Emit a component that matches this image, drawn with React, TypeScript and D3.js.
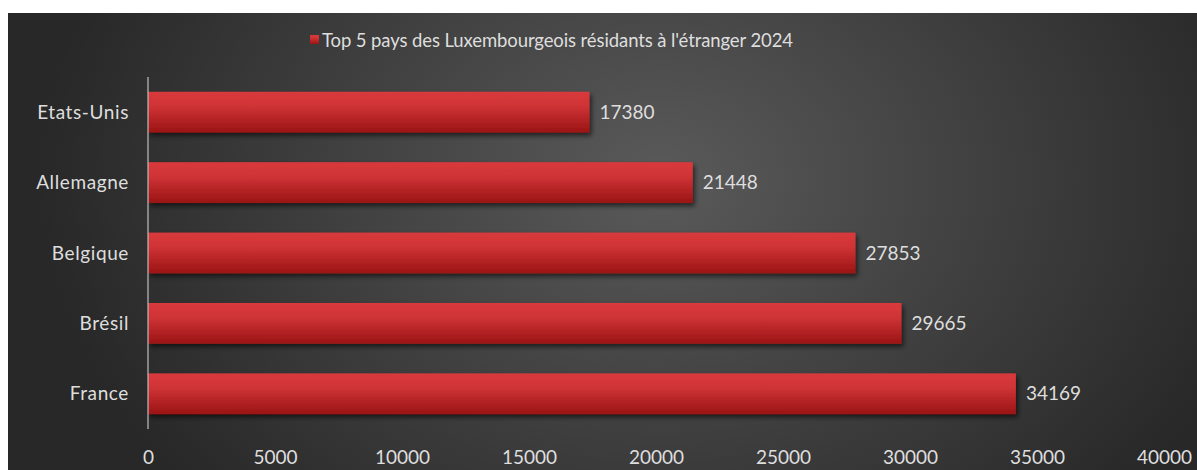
import { useEffect, useRef } from "react";
import * as d3 from "d3";

const categories = ["Etats-Unis", "Allemagne", "Belgique", "Brésil", "France"];
const values = [17380, 21448, 27853, 29665, 34169];
const tickValues = [0, 5000, 10000, 15000, 20000, 25000, 30000, 35000, 40000];
const title = "Top 5 pays des Luxembourgeois résidants à l'étranger 2024";

const W = 1197;
const H = 470;

const App = () => {
  const svgRef = useRef<SVGSVGElement>(null);

  useEffect(() => {
    const svg = d3.select(svgRef.current);
    svg.selectAll("*").remove();

    const font = "Lato, 'Open Sans', sans-serif";
    const textColor = "#dedede";

    const defs = svg.append("defs");
    const bg = defs.append("radialGradient")
      .attr("id", "bg")
      .attr("gradientUnits", "userSpaceOnUse")
      .attr("cx", 660).attr("cy", 180).attr("r", 620)
      .attr("gradientTransform", "translate(660,180) scale(1,0.75) translate(-660,-180)");
    bg.append("stop").attr("offset", "0%").attr("stop-color", "#5a5a5a");
    bg.append("stop").attr("offset", "100%").attr("stop-color", "#282828");

    const barGrad = defs.append("linearGradient")
      .attr("id", "bar").attr("x1", 0).attr("y1", 0).attr("x2", 0).attr("y2", 1);
    barGrad.append("stop").attr("offset", "0%").attr("stop-color", "#d93a3b");
    barGrad.append("stop").attr("offset", "35%").attr("stop-color", "#cf3336");
    barGrad.append("stop").attr("offset", "100%").attr("stop-color", "#9a1414");

    const shadow = defs.append("filter").attr("id", "shadow")
      .attr("x", "-5%").attr("y", "-20%").attr("width", "110%").attr("height", "160%");
    shadow.append("feDropShadow")
      .attr("dx", 2).attr("dy", 3).attr("stdDeviation", 2.5)
      .attr("flood-color", "#000").attr("flood-opacity", 0.6);

    svg.append("rect")
      .attr("x", 8).attr("y", 13)
      .attr("width", W - 8).attr("height", H - 13)
      .attr("fill", "url(#bg)");

    const x = d3.scaleLinear().domain([0, 40000]).range([148, 1164]);
    const y = d3.scaleBand()
      .domain(categories)
      .range([77, 429])
      .paddingInner(0.42)
      .paddingOuter(0.21);

    // bars
    svg.append("g")
      .selectAll("rect")
      .data(values)
      .join("rect")
      .attr("x", x(0))
      .attr("y", (_, i) => y(categories[i])!)
      .attr("width", d => x(d) - x(0))
      .attr("height", y.bandwidth())
      .attr("fill", "url(#bar)")
      .attr("filter", "url(#shadow)");

    // value labels
    svg.append("g")
      .selectAll("text")
      .data(values)
      .join("text")
      .attr("x", d => x(d) + 10)
      .attr("y", (_, i) => y(categories[i])! + y.bandwidth() / 2)
      .attr("dy", "0.35em")
      .attr("font-family", font)
      .attr("font-size", 19)
      .attr("fill", textColor)
      .text(d => d);

    // y axis line
    svg.append("line")
      .attr("x1", x(0)).attr("x2", x(0))
      .attr("y1", 77).attr("y2", 429)
      .attr("stroke", "#bfbfbf").attr("stroke-width", 1.2);

    // category labels
    svg.append("g")
      .selectAll("text")
      .data(categories)
      .join("text")
      .attr("x", 129)
      .attr("y", d => y(d)! + y.bandwidth() / 2)
      .attr("dy", "0.35em")
      .attr("text-anchor", "end")
      .attr("font-family", font)
      .attr("font-size", 19)
      .attr("letter-spacing", 0.6)
      .attr("fill", textColor)
      .text(d => d);

    // x axis tick labels
    const xAxis = d3.axisBottom(x).tickValues(tickValues).tickSize(0).tickPadding(0)
      .tickFormat(d => String(d));
    const gx = svg.append("g").attr("transform", "translate(0,450)").call(xAxis);
    gx.select(".domain").remove();
    gx.selectAll("text")
      .attr("font-family", font)
      .attr("font-size", 19)
      .attr("fill", textColor);

    // legend / title
    const legendG = svg.append("g");
    legendG.append("rect")
      .attr("x", 310).attr("y", 35)
      .attr("width", 9).attr("height", 9)
      .attr("fill", "url(#bar)");
    legendG.append("text")
      .attr("x", 322).attr("y", 41)
      .attr("dy", "0.35em")
      .attr("font-family", font)
      .attr("font-size", 18.5)
      .attr("textLength", 471)
      .attr("fill", textColor)
      .text(title);
  }, []);

  return (
    <svg
      ref={svgRef}
      width={W}
      height={H}
      style={{ position: "absolute", left: 0, top: 0 }}
    ></svg>
  );
};

export default App;
